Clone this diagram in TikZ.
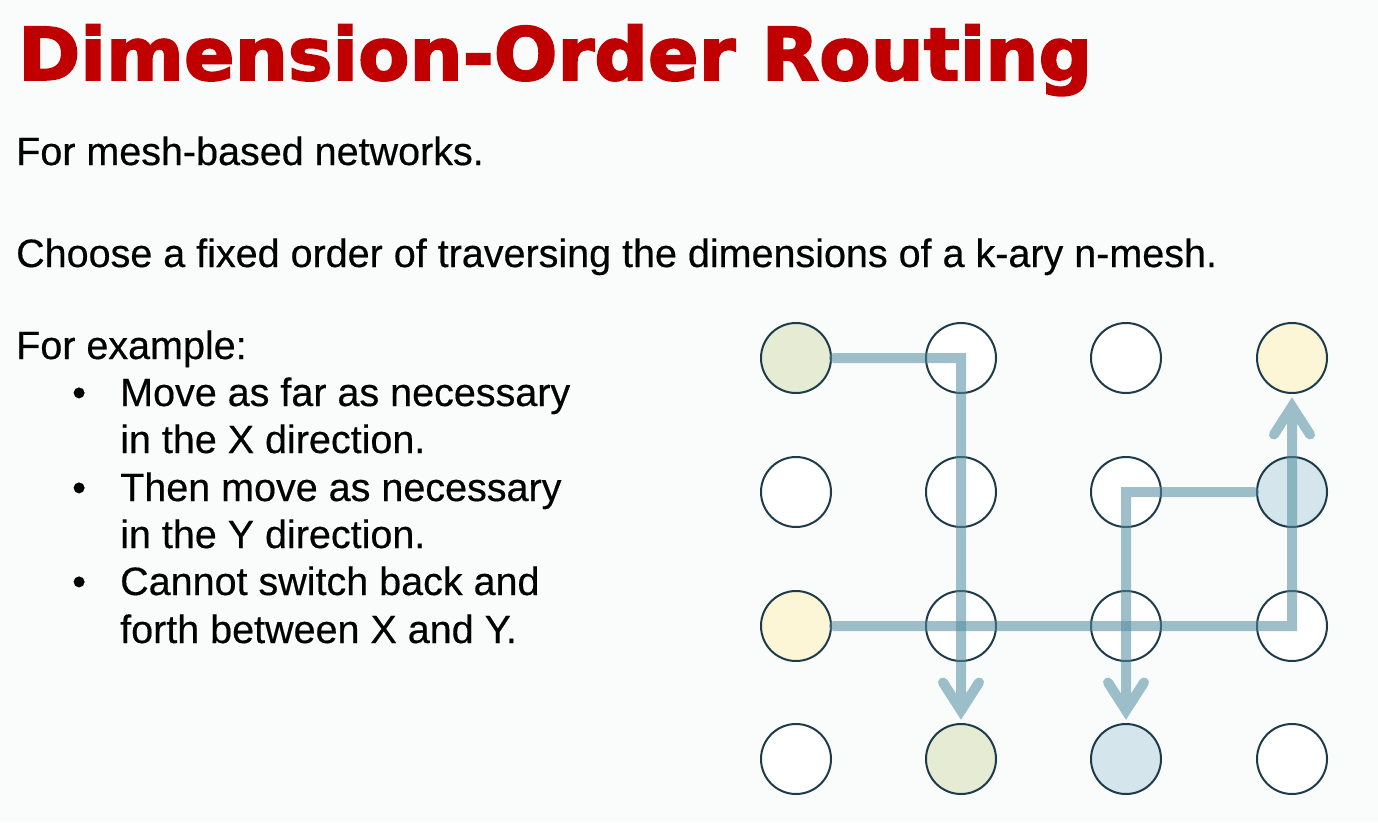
\documentclass[tikz,border=0pt]{standalone}
\usepackage{fontspec}
\setmainfont{Liberation Sans}[FakeBold=0.4]
\newfontfamily\titlefont[FakeBold=2.5,FakeStretch=1.025]{DejaVu Sans Bold}
\definecolor{bg}{RGB}{250,252,252}
\definecolor{titlered}{RGB}{192,0,0}
\definecolor{ring}{RGB}{30,59,74}
\definecolor{gfill}{RGB}{230,235,211}
\definecolor{yfill}{RGB}{252,246,214}
\definecolor{bfill}{RGB}{212,229,235}
\definecolor{route}{RGB}{80,140,160}
\begin{document}
\begin{tikzpicture}[x=1pt,y=-1pt,
  nd/.style={circle,draw=ring,line width=2pt,minimum size=70pt,inner sep=0pt,fill=white},
  rt/.style={draw=route,line width=10pt,draw opacity=0.55,line cap=round,line join=miter},
  body/.style={anchor=base west,inner sep=0pt,font=\fontsize{39.5}{47.5}\selectfont},
  bul/.style={anchor=base west,inner sep=0pt,font=\fontsize{39.5}{47.5}\selectfont}]
\fill[bg] (0,0) rectangle (1378,822);
\node[anchor=base west, inner sep=0pt, text=titlered, font=\titlefont\fontsize{73}{80}\selectfont] (title) at (18,80) {Dimension-Order Routing};
\node[body] (l1) at (16,165) {For mesh-based networks.};
\node[body] (l2) at (16,267) {Choose a fixed order of traversing the dimensions of a k-ary n-mesh.};
\node[body] (l3) at (16,359) {For example:};
\node[bul] (b1) at (72,406) {\textbullet};
\node[body] (t1) at (120,406) {Move as far as necessary};
\node[body] (t1b) at (120,453) {in the X direction.};
\node[bul] (b2) at (72,501) {\textbullet};
\node[body] (t2) at (120,501) {Then move as necessary};
\node[body] (t2b) at (120,548) {in the Y direction.};
\node[bul] (b3) at (72,595) {\textbullet};
\node[body] (t3) at (120,595) {Cannot switch back and};
\node[body] (t3b) at (120,643) {forth between X and Y.};
% mesh nodes
\node[nd,fill=gfill] (n11) at (796,358) {};
\node[nd] (n12) at (961,358) {};
\node[nd] (n13) at (1126,358) {};
\node[nd,fill=yfill] (n14) at (1292,358) {};
\node[nd] (n21) at (796,492) {};
\node[nd] (n22) at (961,492) {};
\node[nd] (n23) at (1126,492) {};
\node[nd,fill=bfill] (n24) at (1292,492) {};
\node[nd,fill=yfill] (n31) at (796,626) {};
\node[nd] (n32) at (961,626) {};
\node[nd] (n33) at (1126,626) {};
\node[nd] (n34) at (1292,626) {};
\node[nd] (n41) at (796,759) {};
\node[nd,fill=gfill] (n42) at (961,759) {};
\node[nd,fill=bfill] (n43) at (1126,759) {};
\node[nd] (n44) at (1292,759) {};
% routes
\draw[rt] ([xshift=2pt]n11.east) -| ([yshift=12.5pt]n42.north)
  ([shift={(-18pt,40.5pt)}]n42.north) -- ([yshift=12.5pt]n42.north) -- ([shift={(18pt,40.5pt)}]n42.north);
\draw[rt] ([xshift=-2pt]n24.west) -| ([yshift=12.5pt]n43.north)
  ([shift={(-18pt,40.5pt)}]n43.north) -- ([yshift=12.5pt]n43.north) -- ([shift={(18pt,40.5pt)}]n43.north);
\draw[rt] ([xshift=2pt]n31.east) -| ([yshift=-12.5pt]n14.south)
  ([shift={(-18pt,-40.5pt)}]n14.south) -- ([yshift=-12.5pt]n14.south) -- ([shift={(18pt,-40.5pt)}]n14.south);
\end{tikzpicture}
\end{document}
